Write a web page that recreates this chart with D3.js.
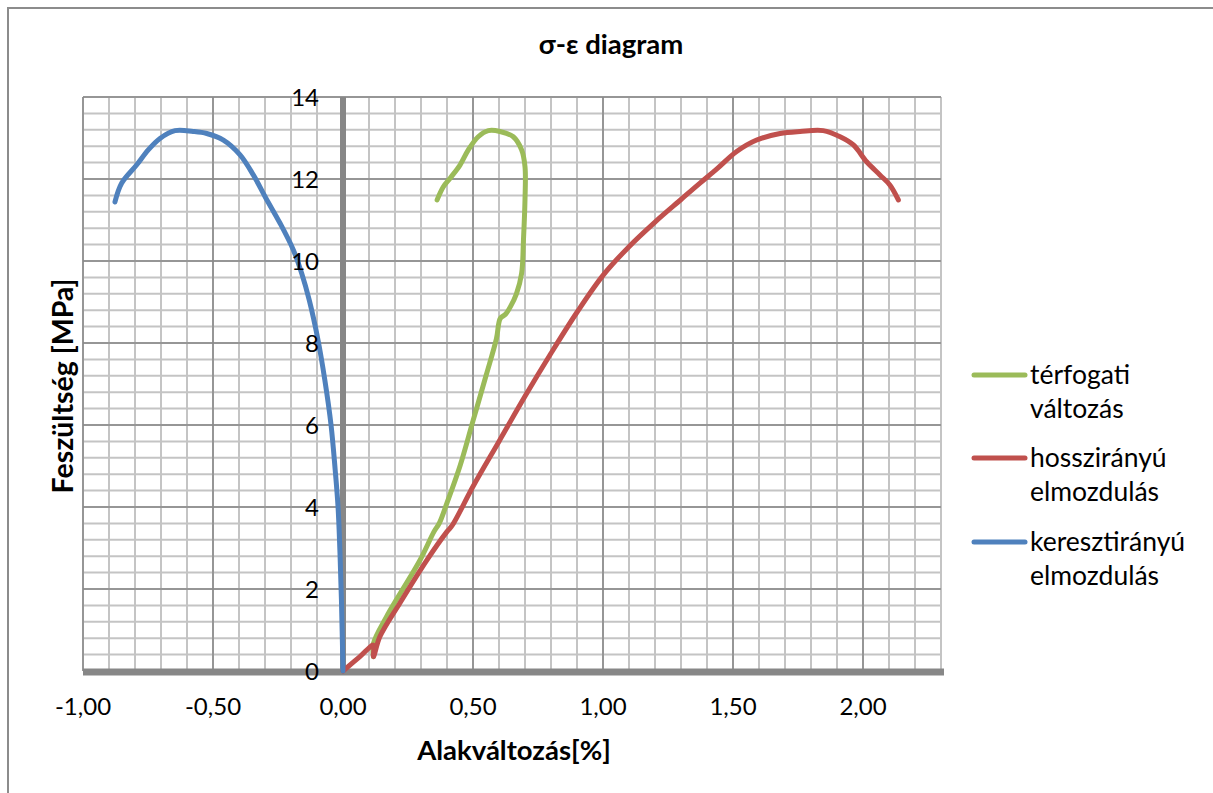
<!DOCTYPE html>
<html>
<head>
<meta charset="utf-8">
<script src="https://cdn.jsdelivr.net/npm/d3@7"></script>
<style>
  html, body { margin: 0; padding: 0; background: #fff; }
  svg { display: block; font-family: Lato, "Open Sans", sans-serif; }
</style>
</head>
<body>
<svg id="chart" width="1213" height="793"></svg>
<script>
// Strain [%] vs. stress [MPa] samples for each measured series
const seriesNames = ["térfogati változás", "hosszirányú elmozdulás", "keresztirányú elmozdulás"];
const seriesColors = ["#9bbb59", "#c0504d", "#4f81bd"];

const terfogatiX = [0.117, 0.117, 0.168, 0.296, 0.35, 0.37, 0.40, 0.45, 0.50, 0.55, 0.59, 0.605, 0.625, 0.645, 0.667, 0.687, 0.694, 0.70, 0.70, 0.687, 0.655, 0.604, 0.559, 0.52, 0.482, 0.45, 0.412, 0.386, 0.362];
const terfogatiY = [0.35, 0.67, 1.33, 2.7, 3.4, 3.6, 4.1, 5.0, 6.1, 7.2, 8.1, 8.6, 8.7, 8.9, 9.2, 9.7, 10.5, 11.5, 12.3, 12.71, 13.03, 13.16, 13.18, 13.03, 12.71, 12.34, 12.02, 11.81, 11.49];

const hosszX = [0.0, 0.065, 0.117, 0.117, 0.142, 0.219, 0.322, 0.40, 0.42, 0.50, 0.60, 0.70, 0.80, 0.90, 1.0, 1.1, 1.2, 1.3, 1.373, 1.437, 1.514, 1.591, 1.681, 1.758, 1.847, 1.912, 1.963, 2.014, 2.065, 2.104, 2.136];
const hosszY = [0.0, 0.35, 0.63, 0.35, 0.84, 1.66, 2.7, 3.4, 3.55, 4.5, 5.6, 6.7, 7.75, 8.75, 9.65, 10.35, 10.95, 11.5, 11.9, 12.24, 12.67, 12.95, 13.11, 13.16, 13.18, 13.03, 12.83, 12.42, 12.1, 11.85, 11.49];

const keresztX = [0.0, -0.006, -0.012, -0.019, -0.03, -0.046, -0.07, -0.096, -0.13, -0.159, -0.191, -0.242, -0.298, -0.345, -0.396, -0.46, -0.524, -0.576, -0.646, -0.704, -0.749, -0.794, -0.851, -0.877];
const keresztY = [0.0, 1.73, 2.95, 4.0, 4.9, 6.0, 7.1, 8.07, 9.05, 9.7, 10.27, 10.92, 11.55, 12.1, 12.59, 12.95, 13.11, 13.16, 13.18, 12.99, 12.71, 12.34, 11.9, 11.44];

const xTicks = [-1.0, -0.5, 0.0, 0.5, 1.0, 1.5, 2.0];
const yTicks = [0, 2, 4, 6, 8, 10, 12, 14];

const seriesData = [
  d3.zip(terfogatiX, terfogatiY),
  d3.zip(hosszX, hosszY),
  d3.zip(keresztX, keresztY)
];

const svg = d3.select("#chart");
const plot = { left: 83, right: 941, top: 97, bottom: 671 };

const x = d3.scaleLinear().domain([-1.0, 2.3]).range([plot.left, plot.right]);
const y = d3.scaleLinear().domain([0, 14]).range([plot.bottom, plot.top]);

// chart frame
svg.append("rect")
  .attr("x", 8).attr("y", 8).attr("width", 1220).attr("height", 800)
  .attr("fill", "#fff").attr("stroke", "#8c8c8c").attr("stroke-width", 2);

// minor grid
const g = svg.append("g");
const minorX = d3.range(-10, 24).map(i => i / 10);
const minorY = d3.range(0, 36).map(i => i * 0.4);
g.selectAll(".vminor").data(minorX).join("line")
  .attr("x1", d => x(d)).attr("x2", d => x(d))
  .attr("y1", plot.top).attr("y2", plot.bottom)
  .attr("stroke", "#c4c4c4").attr("stroke-width", 2);
g.selectAll(".hminor").data(minorY).join("line")
  .attr("y1", d => y(d)).attr("y2", d => y(d))
  .attr("x1", plot.left).attr("x2", plot.right)
  .attr("stroke", "#c4c4c4").attr("stroke-width", 2);
g.append("line").attr("x1", plot.right).attr("x2", plot.right)
  .attr("y1", plot.top).attr("y2", plot.bottom)
  .attr("stroke", "#c4c4c4").attr("stroke-width", 2);

// major grid
const majorX = [-1.0, -0.5, 0.5, 1.0, 1.5, 2.0];
g.selectAll(".vmajor").data(majorX).join("line")
  .attr("x1", d => x(d)).attr("x2", d => x(d))
  .attr("y1", plot.top).attr("y2", plot.bottom)
  .attr("stroke", "#878787").attr("stroke-width", 1.5);
g.selectAll(".hmajor").data(yTicks.slice(1)).join("line")
  .attr("y1", d => y(d)).attr("y2", d => y(d))
  .attr("x1", plot.left).attr("x2", plot.right)
  .attr("stroke", "#878787").attr("stroke-width", 1.5);

// zero axes
svg.append("line").attr("x1", x(0)).attr("x2", x(0))
  .attr("y1", plot.top).attr("y2", plot.bottom)
  .attr("stroke", "#878787").attr("stroke-width", 6);
svg.append("line").attr("x1", plot.left).attr("x2", plot.right + 3)
  .attr("y1", y(0) + 1).attr("y2", y(0) + 1)
  .attr("stroke", "#878787").attr("stroke-width", 7);

// series
const line = d3.line().x(d => x(d[0])).y(d => y(d[1])).curve(d3.curveCatmullRom.alpha(0.5));
svg.append("g").selectAll("path").data(seriesData).join("path")
  .attr("d", line)
  .attr("fill", "none")
  .attr("stroke", (d, i) => seriesColors[i])
  .attr("stroke-width", 5)
  .attr("stroke-linejoin", "round")
  .attr("stroke-linecap", "round");

// axis tick labels
const fmt = v => d3.format(".2f")(v).replace(".", ",").replace("−", "-");
svg.append("g").selectAll("text").data(xTicks).join("text")
  .attr("x", d => x(d)).attr("y", 715)
  .attr("text-anchor", "middle")
  .attr("font-size", 24).attr("fill", "#000")
  .text(d => fmt(d));
svg.append("g").selectAll("text").data(yTicks).join("text")
  .attr("x", x(0) - 24).attr("y", d => y(d) + 8.5)
  .attr("text-anchor", "end")
  .attr("font-size", 24).attr("fill", "#000")
  .text(d => d);

// titles
svg.append("text").attr("x", 611).attr("y", 54)
  .attr("text-anchor", "middle").attr("font-weight", "bold").attr("font-size", 27.5)
  .text("σ-ε diagram");
svg.append("text").attr("x", 514).attr("y", 760)
  .attr("text-anchor", "middle").attr("font-weight", "bold").attr("font-size", 27.5)
  .text("Alakváltozás[%]");
svg.append("text")
  .attr("transform", "translate(73,386) rotate(-90)")
  .attr("text-anchor", "middle").attr("font-weight", "bold").attr("font-size", 28.5)
  .text("Feszültség [MPa]");

// legend
const legendLines = [["térfogati", "változás"], ["hosszirányú", "elmozdulás"], ["keresztirányú", "elmozdulás"]];
const legendTop = [375, 458, 542];
const lg = svg.append("g").selectAll("g").data(legendLines).join("g")
  .attr("transform", (d, i) => `translate(0,${legendTop[i]})`);
lg.append("line").attr("x1", 974).attr("x2", 1025).attr("y1", 0).attr("y2", 0)
  .attr("stroke", (d, i) => seriesColors[i]).attr("stroke-width", 5).attr("stroke-linecap", "round");
lg.append("text").attr("x", 1030).attr("y", 9).attr("font-size", 26.5).text(d => d[0]);
lg.append("text").attr("x", 1030).attr("y", 43).attr("font-size", 26.5).text(d => d[1]);
</script>
</body>
</html>
